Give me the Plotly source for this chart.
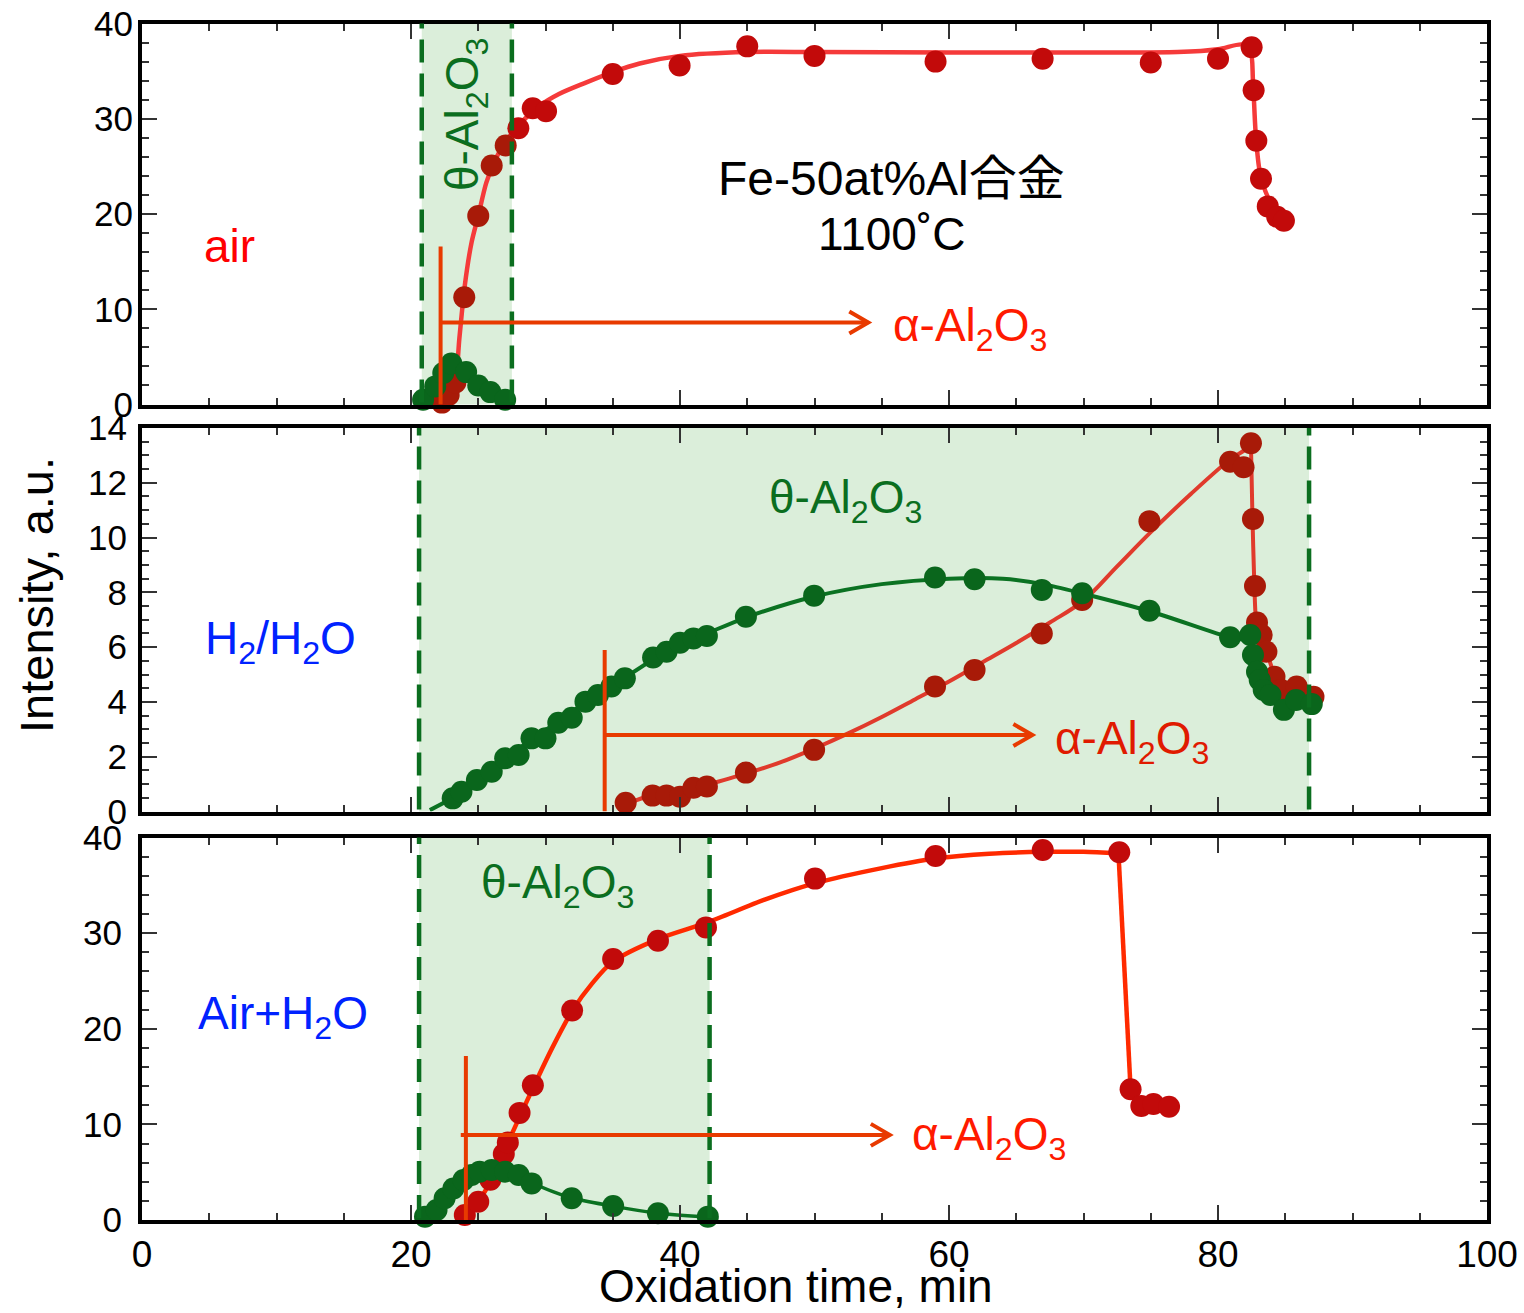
import plotly.graph_objects as go

# ---------------- data ----------------
# Panel 1: air
air_alpha_x = [22.3, 22.8, 23.3, 23.96, 25.0, 26.0, 27.04, 27.98, 29.05, 30.04, 35.0, 39.97, 45.0, 50.0,
               59.0, 66.96, 75.0, 80.0, 82.5, 82.65, 82.85, 83.2, 83.7, 84.4, 84.9]
air_alpha_y = [0.2, 1.0, 2.3, 11.25, 19.8, 25.1, 27.2, 29.0, 31.1, 30.8, 34.7, 35.6, 37.6, 36.6,
               36.0, 36.3, 35.9, 36.3, 37.5, 33.0, 27.7, 23.7, 20.8, 19.7, 19.3]
air_alpha_fit_x = [22.0, 22.8, 23.3, 23.6, 24.0, 24.5, 25.0, 25.6, 26.3, 27.0, 28.0, 29.5, 31.0, 33.0, 35.0,
                   37.0, 40.0, 45.0, 50.0, 60.0, 70.0, 77.0, 80.0, 81.8, 82.4, 82.6, 82.8, 83.1, 83.7, 84.3, 84.9]
air_alpha_fit_y = [0.0, 0.8, 2.5, 7.0, 12.5, 17.0, 19.8, 23.3, 25.8, 27.5, 29.3, 31.3, 32.6, 33.8, 34.9,
                   35.8, 36.6, 37.0, 37.0, 36.95, 36.95, 37.0, 37.3, 37.8, 37.2, 34.0, 28.5, 24.5, 21.8, 20.5, 19.4]
air_theta_x = [20.9, 21.8, 22.4, 23.0, 24.1, 25.0, 25.9, 27.0]
air_theta_y = [0.5, 1.9, 3.3, 4.3, 3.4, 2.0, 1.3, 0.5]
air_theta_fit_x = [20.4, 21.0, 21.8, 22.4, 23.0, 23.5, 24.1, 25.0, 25.9, 27.0]
air_theta_fit_y = [0.0, 0.7, 2.0, 3.3, 4.4, 4.3, 3.5, 2.1, 1.3, 0.5]
air_band = [20.8, 27.5]

# Panel 2: H2/H2O
h2_theta_x = [23.1, 23.75, 24.9, 26.0, 27.0, 28.0, 28.96, 30.0, 30.95, 31.95, 32.97, 33.9, 34.9, 35.9,
              38.0, 39.0, 40.0, 41.0, 42.0, 44.9, 49.97, 58.96, 61.9, 66.9, 69.9, 74.9, 80.9, 82.4,
              82.6, 82.9, 83.1, 83.4, 83.9, 84.9, 85.8, 86.97]
h2_theta_y = [0.48, 0.72, 1.15, 1.45, 1.94, 2.06, 2.67, 2.67, 3.24, 3.42, 4.01, 4.25, 4.56, 4.86,
              5.62, 5.83, 6.16, 6.32, 6.41, 7.11, 7.88, 8.54, 8.48, 8.09, 7.97, 7.33, 6.36, 6.44,
              5.71, 5.10, 4.80, 4.44, 4.25, 3.71, 4.07, 3.92]
h2_theta_fit_x = [21.4, 23.1, 25.0, 27.0, 29.0, 31.0, 33.0, 35.0, 38.0, 40.0, 42.0, 45.0, 50.0, 55.0, 60.0,
                  64.0, 67.0, 70.0, 75.0, 80.9, 82.4, 82.6, 82.9, 83.4, 84.1, 84.9, 85.8, 87.0]
h2_theta_fit_y = [0.05, 0.5, 1.15, 1.9, 2.65, 3.3, 4.0, 4.6, 5.55, 6.1, 6.5, 7.1, 7.85, 8.3, 8.5,
                  8.5, 8.3, 7.95, 7.3, 6.35, 6.2, 5.7, 5.1, 4.45, 4.15, 3.75, 4.0, 3.9]
h2_alpha_x = [35.96, 37.96, 39.0, 40.0, 41.0, 42.0, 44.9, 49.97, 58.96, 61.9, 66.9, 69.9, 74.9,
              80.9, 81.9, 82.45, 82.6, 82.75, 82.9, 83.25, 83.6, 84.2, 84.7, 85.85, 87.1]
h2_alpha_y = [0.32, 0.58, 0.58, 0.54, 0.87, 0.91, 1.42, 2.25, 4.56, 5.17, 6.5, 7.72, 10.6,
              12.77, 12.57, 13.44, 10.68, 8.23, 6.9, 6.44, 5.83, 4.92, 4.44, 4.56, 4.19]
h2_alpha_fit_x = [35.5, 36.5, 38.0, 40.0, 42.0, 45.0, 47.5, 50.0, 52.5, 55.0, 57.5, 60.0, 62.5, 65.0, 67.5,
                  70.0, 72.5, 75.0, 78.0, 80.9, 82.0, 82.45]
h2_alpha_fit_y = [0.0, 0.35, 0.6, 0.78, 0.98, 1.4, 1.8, 2.3, 2.85, 3.45, 4.1, 4.75, 5.45, 6.15, 6.9,
                  7.7, 8.95, 10.2, 11.6, 12.85, 13.2, 13.4]
h2_alpha_drop_x = [82.45, 82.55, 82.7, 82.85, 83.3, 83.7, 84.3, 84.8, 85.9, 87.1]
h2_alpha_drop_y = [13.4, 11.0, 8.3, 6.9, 6.3, 5.7, 4.85, 4.45, 4.5, 4.2]
h2_band = [20.6, 86.77]

# Panel 3: Air+H2O
wet_alpha_x = [24.0, 25.0, 25.9, 26.9, 27.2, 28.07, 29.06, 31.98, 35.03, 38.36, 41.93, 50.04,
               59.0, 66.97, 72.66, 73.5, 74.3, 75.2, 76.36]
wet_alpha_y = [0.52, 1.9, 4.2, 6.9, 8.1, 11.2, 14.1, 21.9, 27.3, 29.2, 30.6, 35.7,
               38.07, 38.7, 38.45, 13.67, 11.92, 12.13, 11.85]
wet_alpha_fit_x = [23.8, 24.5, 25.5, 26.5, 27.5, 29.0, 30.5, 32.0, 33.5, 35.0, 38.4, 42.0, 46.3, 50.0,
                   55.0, 59.0, 63.0, 67.0, 70.0, 72.6]
wet_alpha_fit_y = [0.0, 1.0, 3.0, 5.8, 9.0, 13.6, 18.0, 21.9, 24.8, 27.0, 29.4, 31.1, 33.5, 35.2,
                   36.8, 37.8, 38.3, 38.5, 38.5, 38.35]
wet_alpha_drop_x = [72.6, 73.5]
wet_alpha_drop_y = [38.35, 13.7]
wet_theta_x = [21.04, 21.9, 22.5, 23.15, 23.9, 24.5, 25.1, 26.0, 27.0, 28.0, 28.97, 31.95,
               35.03, 38.36, 42.07]
wet_theta_y = [0.35, 1.05, 2.27, 3.3, 4.18, 4.7, 5.05, 5.23, 5.05, 4.7, 3.83, 2.27,
               1.46, 0.7, 0.35]
wet_theta_fit_x = [20.5, 21.0, 21.9, 22.5, 23.2, 23.9, 24.5, 25.1, 26.0, 27.0, 28.0, 29.0, 30.5, 32.0,
                   35.0, 38.4, 42.1]
wet_theta_fit_y = [0.0, 0.35, 1.1, 2.2, 3.3, 4.2, 4.75, 5.05, 5.25, 5.1, 4.7, 3.9, 3.0, 2.3,
                   1.45, 0.7, 0.3]
wet_band = [20.6, 42.2]

# alpha onset markers: (onset x, top y of vertical bar, arrow y, arrow tip x, line start x)
alpha_marks = [
    dict(x0=22.2, top=16.6, y=8.6, tip=54.0, start=22.2),
    dict(x0=34.4, top=5.9, y=2.79, tip=66.2, start=34.4),
    dict(x0=24.08, top=17.15, y=8.9, tip=55.6, start=23.7),
]

x_ticks = [0, 20, 40, 60, 80, 100]

# ---------------- styling ----------------
FONT = "Liberation Sans, Arial, Noto Sans CJK JP, sans-serif"
GREEN_PT = "#0a661c"
GREEN_LN = "#0b7222"
GREEN_DASH = "#0b6e1f"
BAND = "rgb(219,238,218)"
RED_PT = "#c20a0a"
RED_DARK = "#a81a08"

W, H = 1524, 1313
xl, xr = 142, 1487
panels_px = [(23.5, 404.5), (428.0, 811.5), (837.5, 1220.0)]
ydom = [[1 - b / H, 1 - t / H] for (t, b) in panels_px]
xdom = [xl / W, xr / W]

fig = go.Figure()


def line(x, y, color, ax, width=4.5, shape="spline", smoothing=0.8):
    fig.add_trace(go.Scatter(x=x, y=y, mode="lines", xaxis=ax[0], yaxis=ax[1],
                             line=dict(color=color, width=width, shape=shape, smoothing=smoothing),
                             showlegend=False, hoverinfo="skip", cliponaxis=False))


def pts(x, y, color, ax, size=22):
    fig.add_trace(go.Scatter(x=x, y=y, mode="markers", xaxis=ax[0], yaxis=ax[1],
                             marker=dict(color=color, size=size, line=dict(width=0)),
                             showlegend=False, hoverinfo="skip", cliponaxis=False))


A1, A2, A3 = ("x", "y"), ("x2", "y2"), ("x3", "y3")

# panel 1
line(air_alpha_fit_x, air_alpha_fit_y, "#f53a3a", A1)
pts(air_alpha_x, air_alpha_y, [RED_DARK if v <= air_band[1] else RED_PT for v in air_alpha_x], A1)
line(air_theta_fit_x, air_theta_fit_y, GREEN_LN, A1, width=3.5)
pts(air_theta_x, air_theta_y, GREEN_PT, A1)

# panel 2
line(h2_alpha_fit_x, h2_alpha_fit_y, "#e03a2c", A2, width=4, smoothing=1.0)
line(h2_alpha_drop_x, h2_alpha_drop_y, "#e03a2c", A2, width=4, smoothing=0.6)
pts(h2_alpha_x, h2_alpha_y, RED_DARK, A2)
line(h2_theta_fit_x, h2_theta_fit_y, GREEN_LN, A2, width=4, smoothing=0.8)
pts(h2_theta_x, h2_theta_y, GREEN_PT, A2)

# panel 3
line(wet_alpha_fit_x, wet_alpha_fit_y, "#ff2a00", A3)
line(wet_alpha_drop_x, wet_alpha_drop_y, "#ff2a00", A3, shape="linear")
pts(wet_alpha_x, wet_alpha_y, RED_PT, A3)
line(wet_theta_fit_x, wet_theta_fit_y, GREEN_LN, A3, width=3.5)
pts(wet_theta_x, wet_theta_y, GREEN_PT, A3)

shapes = []
bands = [air_band, h2_band, wet_band]
px_per_y = [(b - t) / r for (t, b), r in zip(panels_px, [40, 14, 40])]
axes = [A1, A2, A3]
for i, (band, ax) in enumerate(zip(bands, axes)):
    yd = ax[1] + " domain"
    shapes.append(dict(type="rect", xref=ax[0], yref=yd, x0=band[0], x1=band[1], y0=0, y1=1,
                       fillcolor=BAND, line=dict(width=0), layer="below"))
    for bx in band:
        shapes.append(dict(type="line", xref=ax[0], yref=yd, x0=bx, x1=bx, y0=0.005, y1=1,
                           line=dict(color=GREEN_DASH, width=4.5, dash="23px,11px"), layer="above"))
    m = alpha_marks[i]
    col = "#e83a00"
    shapes.append(dict(type="line", xref=ax[0], yref=ax[1], x0=m["x0"], x1=m["x0"], y0=0, y1=m["top"],
                       line=dict(color=col, width=4), layer="above"))
    shapes.append(dict(type="line", xref=ax[0], yref=ax[1], x0=m["start"], x1=m["tip"], y0=m["y"], y1=m["y"],
                       line=dict(color=col, width=4), layer="above"))
    dx = 19 / ((xr - xl) / 100)
    dy = 11 / px_per_y[i]
    shapes.append(dict(type="path", xref=ax[0], yref=ax[1],
                       path=f"M {m['tip']-dx},{m['y']+dy} L {m['tip']},{m['y']} L {m['tip']-dx},{m['y']-dy}",
                       line=dict(color=col, width=4), layer="above"))

ann = []
TF = 46


def text(t, x, y, ax, color, size=TF, xanchor="left", angle=0):
    ann.append(dict(text=t, x=x, y=y, xref=ax[0], yref=ax[1], showarrow=False, xanchor=xanchor,
                    yanchor="middle", textangle=angle, font=dict(family=FONT, size=size, color=color)))


SUBA = "α-Al<sub>2</sub>O<sub>3</sub>"
SUBT = "θ-Al<sub>2</sub>O<sub>3</sub>"
text("air", 4.44, 16.6, A1, "#ff0000")
text("Fe-50at%Al合金", 55.7, 23.7, A1, "#000000", size=48, xanchor="center")
text("1100˚C", 55.76, 17.95, A1, "#000000", xanchor="center")
text(SUBA, 55.66, 8.0, A1, "#ff1a00")
text(SUBT, 24.1, 30.4, A1, "#0b6e1f", xanchor="center", angle=-90)

text("H<sub>2</sub>/H<sub>2</sub>O", 4.5, 6.2, A2, "#0022ff")
text(SUBT, 46.47, 11.35, A2, "#0b6e1f")
text(SUBA, 67.75, 2.55, A2, "#e01a00")

text("Air+H<sub>2</sub>O", 4.0, 21.3, A3, "#0022ff")
text(SUBT, 25.08, 35.0, A3, "#0b6e1f")
text(SUBA, 57.1, 8.6, A3, "#ff1a00")

ann.append(dict(text="Oxidation time, min", x=796 / W, y=0, xref="paper", yref="paper",
                showarrow=False, xanchor="center", yanchor="bottom", yshift=-1,
                font=dict(family=FONT, size=46, color="black")))
ann.append(dict(text="Intensity, a.u.", x=36 / W, y=1 - 595 / H, xref="paper", yref="paper",
                showarrow=False, xanchor="center", yanchor="middle", textangle=-90,
                font=dict(family=FONT, size=47, color="black")))


def xaxis(anchor, labels):
    return dict(domain=xdom, anchor=anchor, range=[0, 100], showline=True, linewidth=4, linecolor="black",
                mirror="allticks", ticks="inside", ticklen=15, tickwidth=1.5, tickcolor="#333",
                tickmode="array", tickvals=x_ticks, ticktext=[str(v) for v in x_ticks],
                showticklabels=labels, tickfont=dict(family=FONT, size=37, color="black"),
                ticklabelstandoff=-1, automargin=False,
                minor=dict(dtick=5, tick0=0, ticks="inside", ticklen=7, tickwidth=1.5, tickcolor="#333"),
                showgrid=False, zeroline=False, fixedrange=True)


def yaxis(anchor, dom, rng, dt, mdt, standoff):
    return dict(domain=dom, anchor=anchor, range=rng, showline=True, linewidth=4, linecolor="black",
                mirror="allticks", ticks="inside", ticklen=15, tickwidth=1.5, tickcolor="#333",
                dtick=dt, tick0=0, tickfont=dict(family=FONT, size=35, color="black"),
                ticklabelstandoff=standoff, automargin=False,
                minor=dict(dtick=mdt, tick0=0, ticks="inside", ticklen=7, tickwidth=1.5, tickcolor="#333"),
                showgrid=False, zeroline=False, fixedrange=True)


fig.update_layout(
    template="none",
    width=W, height=H, margin=dict(l=0, r=0, t=0, b=0, autoexpand=False),
    paper_bgcolor="white", plot_bgcolor="rgba(0,0,0,0)",
    xaxis=xaxis("y", False), yaxis=yaxis("x", ydom[0], [0, 40], 10, 2, -2),
    xaxis2=xaxis("y2", False), yaxis2=yaxis("x2", ydom[1], [0, 14], 2, 0.5, 4),
    xaxis3=xaxis("y3", True), yaxis3=yaxis("x3", ydom[2], [0, 40], 10, 2, 9),
    shapes=shapes, annotations=ann, showlegend=False,
    font=dict(family=FONT),
)

fig.write_html("out.html")
